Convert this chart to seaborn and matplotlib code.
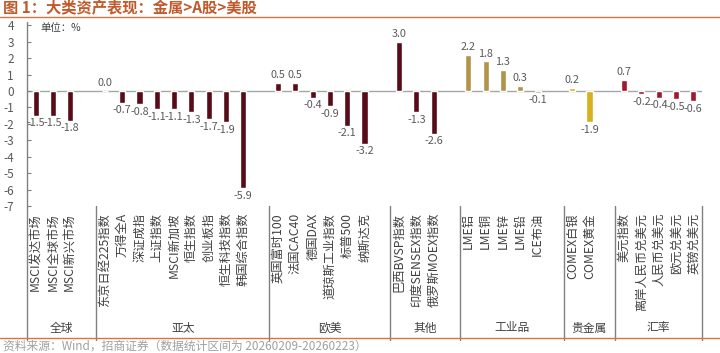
import numpy as np
import pandas as pd
import seaborn as sns
from matplotlib import pyplot as plt

# data
groups = ['全球', '亚太', '欧美', '其他', '工业品', '贵金属', '汇率']

global_names = ['MSCI发达市场', 'MSCI全球市场', 'MSCI新兴市场']
global_vals = [-1.5, -1.5, -1.8]

asia_names = ['东京日经225指数', '万得全A', '深证成指', '上证指数', 'MSCI新加坡',
              '恒生指数', '创业板指', '恒生科技指数', '韩国综合指数']
asia_vals = [0.0, -0.7, -0.8, -1.1, -1.1, -1.3, -1.7, -1.9, -5.9]

euus_names = ['英国富时100', '法国CAC40', '德国DAX', '道琼斯工业指数', '标普500', '纳斯达克']
euus_vals = [0.5, 0.5, -0.4, -0.9, -2.1, -3.2]

other_names = ['巴西BVSP指数', '印度SENSEX指数', '俄罗斯MOEX指数']
other_vals = [3.0, -1.3, -2.6]

metal_names = ['LME铝', 'LME铜', 'LME锌', 'LME铅', 'ICE布油']
metal_vals = [2.2, 1.8, 1.3, 0.3, -0.1]

gold_names = ['COMEX白银', 'COMEX黄金']
gold_vals = [0.2, -1.9]

fx_names = ['美元指数', '离岸人民币兑美元', '人民币兑美元', '欧元兑美元', '英镑兑美元']
fx_vals = [0.7, -0.2, -0.4, -0.5, -0.6]

group_names = [global_names, asia_names, euus_names, other_names, metal_names, gold_names, fx_names]
group_vals = [global_vals, asia_vals, euus_vals, other_vals, metal_vals, gold_vals, fx_vals]
group_colors = ['#640010', '#640010', '#640010', '#640010', '#C29A3B', '#F5C200', '#B8001F']

# lay the bars out with one empty slot between groups
rows = []
seps = [-0.5]
pos = 0
for g, names, vals, col in zip(groups, group_names, group_vals, group_colors):
    for n, v in zip(names, vals):
        rows.append({'pos': pos, 'name': n, 'val': v, 'grp': g, 'color': col})
        pos += 1
    pos += 1
    seps.append(pos - 0.5 if g != groups[-1] else pos - 1.5)
df = pd.DataFrame(rows)

sns.set_style('white')
plt.rcParams['font.family'] = ['Noto Sans CJK SC', 'DejaVu Sans']
plt.rcParams['axes.unicode_minus'] = False

fig = plt.figure(figsize=(7.2, 3.53), dpi=100)
ax = fig.add_axes([27 / 720, 147 / 353, 675 / 720, 184 / 353])

sns.barplot(data=df, x='pos', y='val', hue='color', palette={c: c for c in df['color'].unique()},
            native_scale=True, dodge=False, width=0.35, legend=False, ax=ax)

for c in ax.containers:
    ax.bar_label(c, fmt='%.1f', padding=2, fontsize=7.8, color='#595959')

ax.set_xlim(-0.5, pos - 1.5)
ax.set_ylim(-7, 4.2)
ax.axhline(0, color='#A6A6A6', lw=1, zorder=0)
for s in ax.spines.values():
    s.set_visible(False)

ax.set_yticks(range(-7, 5))
ax.tick_params(axis='y', direction='in', length=3, color='#808080', pad=9.5, labelsize=8.5,
               labelcolor='#595959', left=True)
ax.set_xticks(df['pos'])
ax.set_xticklabels(df['name'], rotation=90, fontsize=8.8, color='#404040')
ax.tick_params(axis='x', length=0, pad=5)
ax.set_xlabel('')
ax.set_ylabel('')

tr = ax.get_xaxis_transform()
ax.plot([-0.5, -0.5], [1, -0.728], transform=tr, color='#808080', lw=1, clip_on=False)
for s in seps[1:]:
    ax.plot([s, s], [0, -0.728], transform=tr, color='#808080', lw=1, clip_on=False)
for g, a, b in zip(groups, seps[:-1], seps[1:]):
    ax.text((a + b) / 2, -0.663, g, transform=tr, ha='center', va='center', fontsize=8.5, color='#404040')

fig.text(40 / 720, 1 - 28 / 353, '单位：%', fontsize=7.5, color='#404040', va='center')
fig.text(3 / 720, 1 - 8 / 353, '图 1：大类资产表现：金属>A股>美股', fontsize=11, fontweight='bold',
         color='#C0592B', va='center')
fig.add_artist(plt.Line2D([0, 1], [1 - 17 / 353, 1 - 17 / 353], color='#D9733F', lw=1))
fig.add_artist(plt.Line2D([0, 1], [1 - 338 / 353, 1 - 338 / 353], color='#D9733F', lw=1))
fig.text(3 / 720, 1 - 346 / 353, '资料来源：Wind，招商证券（数据统计区间为 20260209-20260223）',
         fontsize=8.5, color='#A0A0A0', va='center')

fig.savefig('out.png', dpi=100)
